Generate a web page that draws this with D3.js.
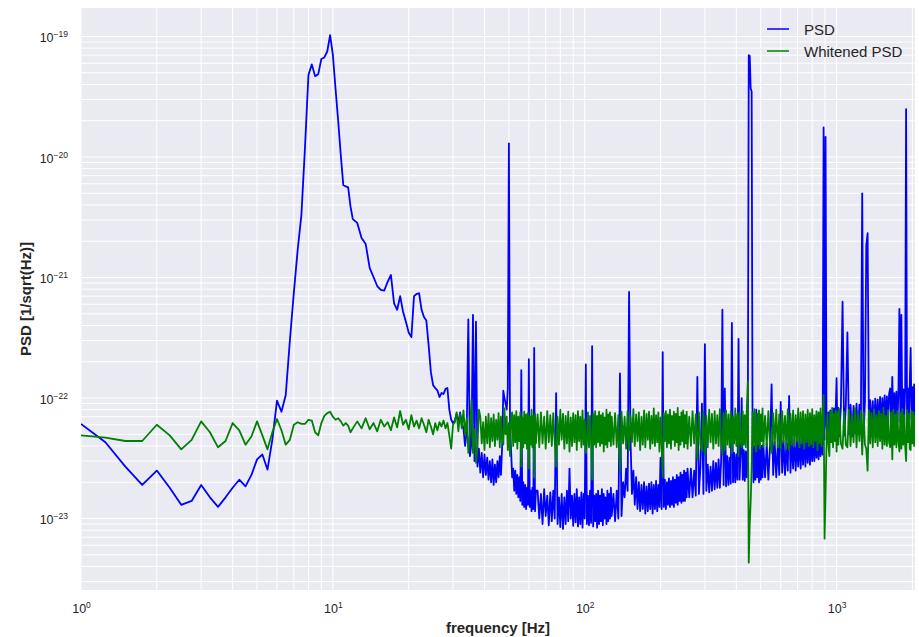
<!DOCTYPE html>
<html>
<head>
<meta charset="utf-8">
<script src="https://cdn.jsdelivr.net/npm/d3@7"></script>
<style>
  body { margin: 0; background: #ffffff; }
  svg text { font-family: "Liberation Sans", Arial, sans-serif; fill: #262626; }
</style>
</head>
<body>
<svg id="chart" width="919" height="637"></svg>
<script>
// Amplitude spectral density values are listed in units of 1e-23 / sqrt(Hz).
const UNIT = 1e-23;

// Frequency bins (Hz) for each band: [first bin, bin width, bin count]
const bandLowA = [1, 0.25, 45];     // 1 .. 12 Hz
const bandLowB = [12.5, 0.5, 36];   // 12.5 .. 30 Hz
const bandC = [30.5, 0.5, 68];      // 30.5 .. 64 Hz
const bandD = [65, 1, 64];          // 65 .. 128 Hz
const bandE = [130, 2, 64];         // 130 .. 256 Hz
const bandF = [260, 4, 64];         // 260 .. 512 Hz
const bandG = [520, 8, 64];         // 520 .. 1024 Hz
const bandH = [1040, 16, 64];       // 1040 .. 2048 Hz

// Raw detector ASD
const psdA = [6.1, 4.3, 2.7, 1.9, 2.5, 1.8, 1.3, 1.4, 1.9, 1.5, 1.25, 1.5,
  1.8, 2.1, 1.85, 2.3, 3.1, 3.4, 2.55, 4.5, 9.5, 7.7, 10.6, 30,
  75, 170, 330, 1200, 4800, 5870, 4690, 4870, 6500, 6700, 7510, 10280,
  7030, 3670, 1990, 1040, 585, 570, 560, 389, 305];
const psdB = [284, 213, 190, 120, 101, 85, 79, 78, 92, 105,
  61, 54, 70, 52, 43, 35, 32, 70, 73, 74,
  54, 47, 44, 27.5, 16.4, 12.8, 12.1, 11.6, 10.2, 11.0,
  10.8, 11.9, 12.1, 8.0, 6.6, 6.2];
const psdC = [6.5, 7.4, 6.2, 7.6, 6.3, 5.6, 4.0, 5.3, 45, 3.3,
  4.2, 49, 3.0, 43, 2.7, 3.8, 2.4, 3.5, 2.2, 3.4,
  2.3, 3.2, 2.1, 3.0, 2.0, 3.1, 1.9, 2.8, 2.0, 3.0,
  2.2, 3.3, 2.3, 4.0, 11.5, 10.0, 9.0, 8.0, 12, 1300,
  6, 3.7, 2.2, 2.6, 1.7, 2.5, 1.6, 2.3, 1.5, 2.2,
  1.4, 17, 1.3, 2.0, 1.25, 1.9, 1.2, 1.8, 1.3, 21,
  1.25, 1.7, 1.15, 1.8, 1.2, 26, 1.15, 1.7];
const psdD = [1.7, 1.0, 1.6, 0.9, 1.75, 1.05, 1.55, 0.88, 1.65, 0.95,
  1.7, 1.0, 11, 0.9, 1.5, 0.85, 1.6, 0.82, 1.5, 0.9,
  1.7, 0.95, 2.6, 1.0, 1.55, 0.87, 1.6, 0.93, 1.75, 0.86,
  1.5, 0.9, 1.65, 0.84, 1.6, 1.0, 19, 0.9, 1.55, 0.88,
  1.7, 0.92, 27, 0.86, 1.55, 0.95, 1.6, 0.84, 1.7, 0.9,
  1.55, 0.95, 1.75, 0.88, 1.6, 1.0, 1.5, 0.9, 1.7, 0.95,
  1.6, 1.0, 1.8, 1.05];
const psdE = [1.6, 0.95, 1.7, 1.0, 16, 1.05, 2.0, 1.5, 2.6, 1.7,
  76, 4.5, 1.6, 2.5, 1.3, 2.2, 1.2, 2.0, 1.15, 1.9,
  1.2, 2.0, 1.1, 1.85, 1.15, 1.95, 1.2, 2.0, 1.1, 1.9,
  1.2, 2.05, 1.15, 1.9, 1.25, 3.2, 1.2, 24, 1.25, 2.1,
  1.2, 2.0, 1.3, 2.15, 1.25, 2.05, 1.3, 2.2, 1.25, 2.1,
  1.35, 2.3, 1.3, 2.2, 1.4, 2.4, 1.35, 2.3, 1.4, 2.5,
  1.4, 2.4, 1.5, 2.6];
const psdF = [1.5, 2.6, 1.5, 2.5, 1.55, 15, 1.6, 2.7, 9, 1.6,
  28, 1.7, 2.8, 1.65, 2.7, 1.7, 3.0, 1.75, 2.9, 1.8,
  3.1, 1.8, 3.0, 54, 1.9, 12, 1.85, 3.3, 1.9, 3.2,
  1.95, 42, 2.0, 3.5, 2.0, 3.4, 2.1, 31, 2.1, 3.6,
  10, 2.1, 3.7, 2.05, 3.6, 2.2, 3.8, 7000, 6900, 3700,
  3500, 3.8, 2.0, 4.0, 2.1, 8, 2.2, 4.1, 2.0, 3.9,
  2.1, 4.0, 2.2, 4.1];
const psdG = [2.2, 4.2, 2.1, 4.0, 13, 2.3, 4.3, 2.2, 4.1, 2.3,
  9.3, 2.4, 4.4, 2.3, 4.2, 2.5, 10.4, 2.4, 4.5, 2.6,
  4.6, 2.5, 4.4, 2.7, 4.8, 2.6, 4.6, 2.8, 4.9, 2.7,
  4.8, 2.9, 5.1, 2.8, 5.0, 3.0, 5.3, 3.0, 5.2, 3.2,
  5.5, 3.1, 5.4, 3.3, 5.6, 3.4, 1760, 4.5, 1470, 6.0,
  4.4, 7.6, 4.6, 7.9, 4.5, 7.7, 4.7, 8.2, 4.8, 8.0,
  14.6, 4.9, 8.3, 4.8];
const psdH = [8.4, 63, 4.9, 8.6, 35, 5.0, 8.8, 4.8, 8.6, 5.1,
  9.0, 5.0, 8.8, 5.2, 500, 5.1, 9.3, 186, 233, 5.3,
  9.6, 5.4, 9.4, 5.5, 9.9, 5.4, 9.7, 5.6, 10.2, 5.7,
  10.0, 5.8, 10.5, 5.7, 10.3, 6.0, 10.8, 12, 6.1, 15,
  6.0, 11.0, 6.2, 11.3, 6.3, 11.0, 55, 6.4, 49, 6.3,
  11.8, 6.5, 12.2, 2500, 6.6, 12.0, 6.5, 12.8, 26, 6.7,
  12.3, 6.6, 13.0, 6.8];

// Whitened ASD
const whtA = [4.9, 4.7, 4.4, 4.4, 6.0, 4.9, 3.75, 4.5, 6.4, 5.2, 3.9, 4.4,
  6.2, 5.4, 4.1, 4.8, 6.4, 4.9, 3.75, 5.2, 6.7, 5.4, 4.1, 4.5,
  6.0, 6.3, 6.1, 6.1, 6.6, 6.5, 5.2, 4.9, 6.2, 7.1, 7.5, 7.7,
  7.0, 6.6, 6.8, 6.4, 5.9, 6.2, 5.9, 5.2, 5.6];
const whtB = [6.4, 5.6, 6.8, 5.5, 6.2, 5.3, 6.6, 5.8, 6.3, 5.4,
  6.9, 5.7, 7.8, 6.0, 6.6, 5.5, 7.2, 5.8, 6.5, 5.6,
  6.8, 6.0, 5.2, 6.6, 5.8, 5.0, 6.2, 5.4, 6.3, 5.8,
  6.5, 5.6, 6.2, 4.9, 3.8, 6.0];
const whtC = [6.3, 7.6, 5.3, 7.4, 5.6, 7.9, 5.0, 6.8, 3.5, 5.1,
  9.6, 3.5, 5.5, 2.9, 3.9, 8.0, 7.0, 4.2, 6.3, 3.7,
  7.0, 4.2, 7.4, 3.9, 6.8, 4.4, 7.3, 4.0, 6.6, 4.5,
  7.5, 3.9, 7.0, 4.6, 4.1, 8.2, 5.0, 7.0, 3.7, 6.2,
  3.3, 6.9, 7.6, 4.0, 7.2, 4.3, 7.8, 3.8, 7.0, 4.4,
  7.6, 2.7, 6.9, 3.9, 7.7, 4.2, 7.3, 3.8, 7.5, 2.6,
  7.0, 4.1, 8.0, 3.9, 7.1, 2.2, 7.4, 4.2];
const whtD = [7.3, 3.9, 7.6, 4.2, 7.0, 3.8, 7.8, 4.3, 7.2, 4.0,
  7.5, 4.4, 2.7, 7.0, 4.1, 8.0, 4.5, 7.4, 3.8, 7.1,
  4.2, 7.7, 3.6, 6.9, 4.0, 7.5, 4.3, 7.2, 3.7, 7.8,
  4.4, 7.0, 3.9, 7.9, 4.1, 6.6, 3.5, 4.2, 7.6, 3.9,
  7.1, 4.5, 2.1, 7.4, 4.1, 7.8, 3.9, 7.1, 4.3, 7.7,
  4.0, 7.2, 4.2, 7.5, 3.6, 6.9, 4.1, 8.0, 3.9, 7.3,
  4.4, 7.6, 4.0, 7.0];
const whtE = [4.1, 7.5, 3.9, 7.2, 2.5, 7.7, 4.2, 7.0, 3.8, 7.8,
  3.7, 7.1, 4.3, 8.1, 4.0, 7.3, 4.4, 7.6, 3.7, 7.0,
  4.1, 7.9, 3.9, 7.4, 4.5, 7.7, 3.8, 7.1, 4.2, 8.2,
  4.0, 7.2, 4.3, 7.6, 3.6, 6.9, 4.1, 2.2, 7.5, 4.4,
  7.8, 3.9, 7.3, 4.2, 8.0, 3.8, 7.1, 4.5, 7.7, 4.0,
  7.4, 4.3, 8.3, 3.7, 7.0, 4.1, 7.6, 4.4, 7.9, 3.9,
  7.2, 4.2, 7.7, 3.8];
const whtF = [7.0, 4.0, 7.8, 4.2, 7.3, 3.1, 7.6, 4.1, 3.6, 7.7,
  3.4, 7.1, 3.9, 8.0, 4.3, 7.4, 3.8, 7.8, 4.2, 7.2,
  4.0, 8.1, 4.4, 3.4, 7.5, 3.7, 7.9, 4.1, 7.3, 3.9,
  7.7, 3.5, 7.0, 4.2, 8.2, 4.0, 7.4, 3.3, 7.6, 4.3,
  3.9, 7.8, 4.1, 7.2, 3.9, 8.0, 13.7, 0.43, 0.9, 1.4,
  2.6, 7.6, 4.0, 8.1, 4.3, 3.6, 7.4, 4.1, 7.9, 3.8,
  7.3, 4.4, 8.2, 3.9];
const whtG = [7.1, 4.0, 7.8, 4.2, 3.5, 7.5, 4.1, 8.0, 3.9, 7.3,
  3.8, 7.8, 4.3, 7.1, 3.8, 8.1, 3.7, 7.4, 4.1, 7.9,
  4.0, 7.2, 4.4, 8.2, 3.9, 7.6, 4.2, 7.8, 3.8, 7.3,
  4.3, 8.0, 4.0, 7.5, 4.1, 8.1, 3.9, 7.2, 4.4, 7.8,
  3.7, 7.6, 4.2, 8.2, 4.0, 6.8, 10.6, 0.68, 1.6, 4.2,
  7.4, 4.1, 3.3, 7.7, 4.3, 8.3, 3.9, 7.3, 4.4, 7.9,
  3.6, 7.6, 4.1, 8.1];
const whtH = [4.2, 3.8, 7.7, 4.1, 3.9, 8.0, 4.0, 7.3, 4.3, 8.2,
  3.9, 7.4, 4.4, 7.8, 3.4, 7.6, 4.1, 3.8, 2.5, 7.9,
  4.2, 7.5, 3.9, 8.1, 4.3, 7.2, 4.0, 7.8, 4.4, 7.4,
  3.8, 8.3, 4.1, 7.1, 4.0, 7.9, 4.3, 3.9, 7.6, 3.1,
  8.0, 4.1, 7.3, 3.9, 7.8, 4.4, 3.6, 7.5, 3.8, 8.1,
  4.1, 7.2, 4.0, 3.0, 7.9, 4.3, 7.4, 3.8, 3.7, 7.8,
  4.2, 7.6, 4.0, 7.2];

const xTicks = [1, 10, 100, 1000];
const yTicks = [1e-23, 1e-22, 1e-21, 1e-20, 1e-19];
const seriesNames = ["PSD", "Whitened PSD"];
const seriesColors = ["#0000ff", "#008000"];

// ---------------------------------------------------------------------------
const bands = [bandLowA, bandLowB, bandC, bandD, bandE, bandF, bandG, bandH];
const psdBands = [psdA, psdB, psdC, psdD, psdE, psdF, psdG, psdH];
const whtBands = [whtA, whtB, whtC, whtD, whtE, whtF, whtG, whtH];

function buildSeries(valueBands) {
  const out = [];
  bands.forEach(([start, step, n], i) => {
    const vals = valueBands[i];
    for (let k = 0; k < n && k < vals.length; k++) {
      out.push({ f: start + k * step, v: vals[k] * UNIT });
    }
  });
  return out;
}
const psd = buildSeries(psdBands);
const whitened = buildSeries(whtBands);

const svg = d3.select("#chart");
const plot = { left: 81, right: 915, top: 8, bottom: 590 };

const x = d3.scaleLog().domain([1, 2048]).range([plot.left, plot.right]);
const y = d3.scaleLog().domain([Math.pow(10, -23.593), Math.pow(10, -18.7635)])
  .range([plot.bottom, plot.top]);

// plot background
svg.append("rect")
  .attr("x", plot.left).attr("y", plot.top)
  .attr("width", plot.right - plot.left).attr("height", plot.bottom - plot.top)
  .attr("fill", "#eaeaf2");

// major + minor grid lines on both log axes
function logGrid(domain) {
  const [lo, hi] = domain;
  const vals = [];
  for (let e = Math.floor(Math.log10(lo)); e <= Math.ceil(Math.log10(hi)); e++) {
    for (let m = 1; m <= 9; m++) {
      const v = m * Math.pow(10, e);
      if (v >= lo * 0.9999 && v <= hi * 1.0001) vals.push(v);
    }
  }
  return vals;
}
const grid = svg.append("g").attr("stroke", "#ffffff").attr("stroke-width", 1);
grid.selectAll("line.gx").data(logGrid(x.domain())).join("line")
  .attr("class", "gx")
  .attr("x1", d => x(d)).attr("x2", d => x(d))
  .attr("y1", plot.top).attr("y2", plot.bottom);
grid.selectAll("line.gy").data(logGrid(y.domain())).join("line")
  .attr("class", "gy")
  .attr("x1", plot.left).attr("x2", plot.right)
  .attr("y1", d => y(d)).attr("y2", d => y(d));

// clip for the traces
svg.append("clipPath").attr("id", "plot-clip").append("rect")
  .attr("x", plot.left).attr("y", plot.top)
  .attr("width", plot.right - plot.left).attr("height", plot.bottom - plot.top);

const line = d3.line().x(d => x(d.f)).y(d => y(d.v));
const traces = svg.append("g").attr("clip-path", "url(#plot-clip)");
[psd, whitened].forEach((data, i) => {
  traces.append("path")
    .datum(data)
    .attr("fill", "none")
    .attr("stroke", seriesColors[i])
    .attr("stroke-width", 1.8)
    .attr("stroke-linejoin", "round")
    .attr("d", line);
});

// power-of-ten tick labels
function powerLabel(text) {
  text.each(function (d) {
    const t = d3.select(this);
    const exp = Math.round(Math.log10(d));
    t.text(null);
    t.append("tspan").text("10");
    t.append("tspan").attr("dy", -5).attr("font-size", "8.5px")
      .text(String(exp).replace("-", "\u2212"));
  });
}

const xAxis = svg.append("g")
  .attr("transform", `translate(0,${plot.bottom})`)
  .call(d3.axisBottom(x).tickValues(xTicks).tickSize(0).tickPadding(14.5));
const yAxis = svg.append("g")
  .attr("transform", `translate(${plot.left},0)`)
  .call(d3.axisLeft(y).tickValues(yTicks).tickSize(0).tickPadding(13));
[xAxis, yAxis].forEach(g => {
  g.select(".domain").remove();
  g.selectAll("text")
    .attr("font-family", null)
    .attr("font-size", "12.5px")
    .attr("fill", "#262626")
    .call(powerLabel);
});
yAxis.selectAll("text").attr("dy", "0.4em");

// axis titles
svg.append("text")
  .attr("x", (plot.left + plot.right) / 2).attr("y", 633)
  .attr("text-anchor", "middle")
  .attr("font-size", "15px").attr("font-weight", "bold")
  .text("frequency [Hz]");
svg.append("text")
  .attr("transform", `translate(31,${(plot.top + plot.bottom) / 2}) rotate(-90)`)
  .attr("text-anchor", "middle")
  .attr("font-size", "15px").attr("font-weight", "bold")
  .text("PSD [1/sqrt(Hz)]");

// legend
const legend = svg.append("g").attr("transform", "translate(767,29)");
seriesNames.forEach((name, i) => {
  const row = legend.append("g").attr("transform", `translate(0,${i * 22})`);
  row.append("line").attr("x1", 0).attr("x2", 22).attr("y1", 0).attr("y2", 0)
    .attr("stroke", seriesColors[i]).attr("stroke-width", 1.5);
  row.append("text").attr("x", 37).attr("y", 5.5)
    .attr("font-size", "15px").text(name);
});
</script>
</body>
</html>
